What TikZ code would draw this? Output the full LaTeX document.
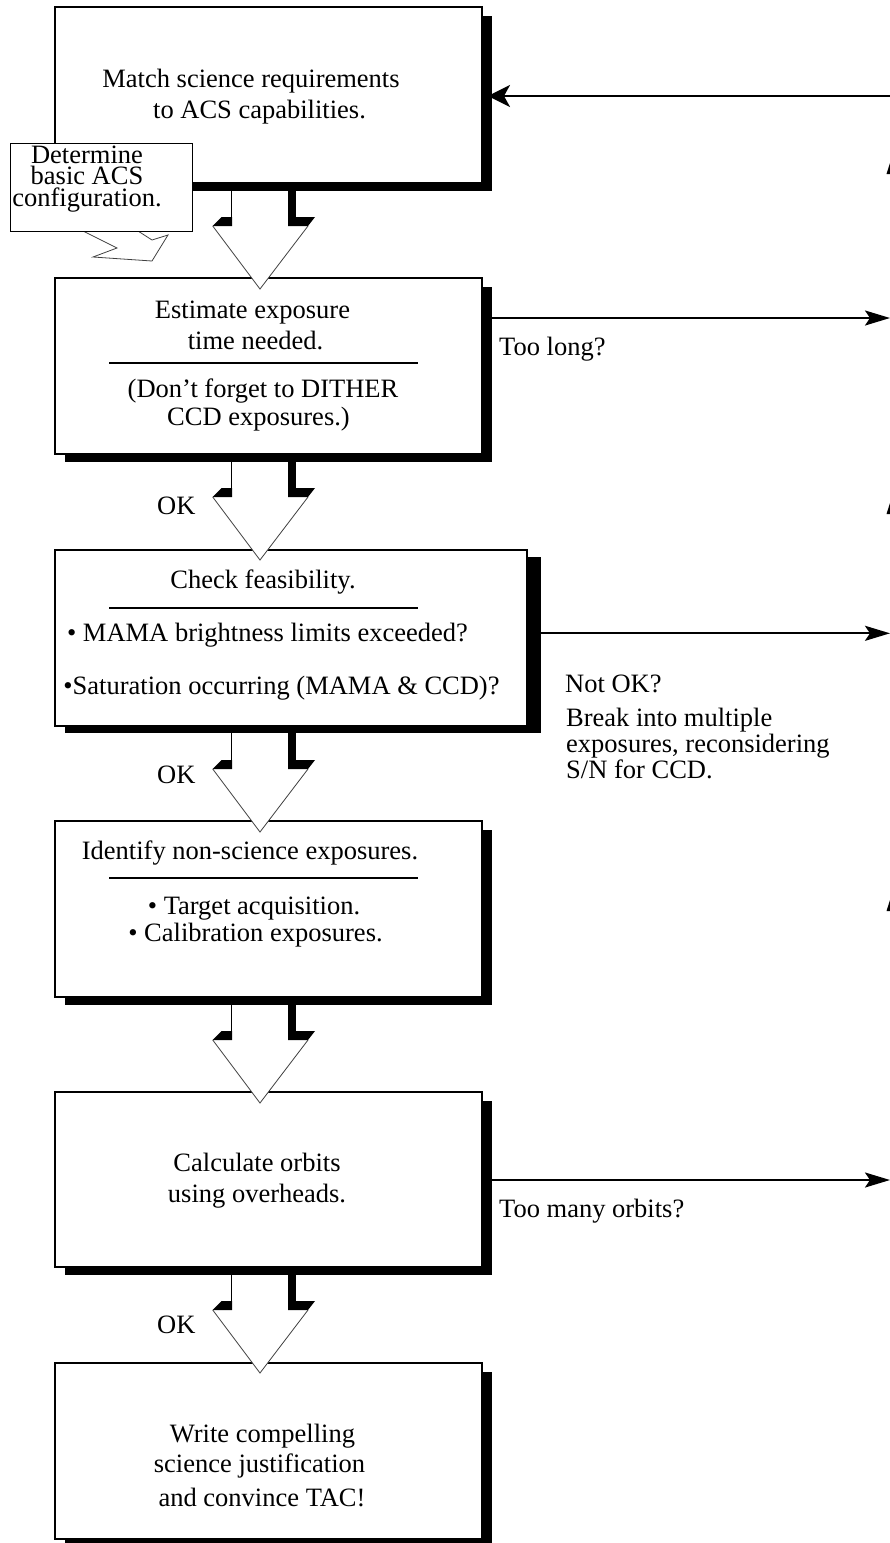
\documentclass[tikz,border=0pt]{standalone}
\usepackage{fontspec}
\setmainfont{Liberation Serif}
\usetikzlibrary{arrows.meta,calc}
\begin{document}
\begin{tikzpicture}[x=1pt,y=-1pt,
  box/.style={draw=black, line width=2pt, fill=white, minimum width=427pt, minimum height=176pt, inner sep=0pt, outer sep=0pt},
  txt/.style={font=\fontsize{26.5}{31}\selectfont, inner sep=0pt, anchor=base},
  ltxt/.style={font=\fontsize{26.5}{31}\selectfont, inner sep=0pt, anchor=base west},
  sep/.style={line width=2pt},
  thinedge/.style={draw=black!75, line width=0.8pt},
  sidearrow/.style={line width=2.2pt, -{Stealth[length=25pt,width=15pt,inset=5pt]}},
  backarrow/.style={line width=2.2pt, -{Stealth[length=22pt,width=22pt,inset=6pt]}}
]
\useasboundingbox (0,0) rectangle (890,1543);

% ---- boxes
\node[box] (b1) at (268.5,95) {};
\node[box] (b2) at (268.5,366) {};
\node[box, minimum width=472pt] (b3) at (291,638) {};
\node[box] (b4) at (268.5,909) {};
\node[box, minimum height=175pt] (b5) at (268.5,1179.5) {};
\node[box] (b6) at (268.5,1451) {};
% ---- shadows
\foreach \b in {b1,b2,b4,b5,b6}{
  \fill ($(\b.north east)+(0,9)$) rectangle ($(\b.south east)+(10,8)$);
  \fill ($(\b.south west)+(10,0)$) rectangle ($(\b.south east)+(10,8)$);
}
\fill ($(b3.north east)+(0,7)$) rectangle ($(b3.south east)+(14,7)$);
\fill ($(b3.south west)+(10,0)$) rectangle ($(b3.south east)+(14,7)$);
\foreach \b in {b1,b2,b3,b4,b5,b6}{
  \draw[line width=2pt] (\b.south west) rectangle (\b.north east);
}

% ---- block arrows between boxes
\newcommand\flowarr[1]{%
\begin{scope}[shift={(#1.south west)}]
  \fill[white] (157.7,43) -- (176.7,43) -- (176.7,8) -- (233,8) -- (233,43) -- (253,43) -- (205,106) -- cycle;
  \draw[thinedge] (157.7,43) -- (205,106) -- (253,43);
  \draw[line width=1pt] (176.7,0) -- (176.7,34.5);
  \fill (157.7,43) -- (166.7,34) -- (177.2,34) -- (177.2,43) -- cycle;
  \fill (233,0) rectangle (241,34);
  \fill (233,34) -- (260,34) -- (253,43) -- (233,43) -- cycle;
\end{scope}}
\flowarr{b1}
\flowarr{b2}
\flowarr{b3}
\flowarr{b4}
\flowarr{b5}

% ---- box texts
\node[txt] (t1a) at (251,87.3) {Match science requirements};
\node[txt] (t1b) at (259.5,118.3) {to ACS capabilities.};

\node[txt] (t2a) at (252.5,318.3) {Estimate exposure};
\node[txt] (t2b) at (255.5,349.3) {time needed.};
\draw[sep] (109,363) -- (418,363);
\node[txt] (t2c) at (263,397.7) {(Don’t forget to DITHER};
\node[txt] (t2d) at (258.5,425.7) {CCD exposures.)};

\node[txt] (t3a) at (263,588.3) {Check feasibility.};
\draw[sep] (109,608) -- (418,608);
\node[txt] (t3b) at (267.5,641.7) {• MAMA brightness limits exceeded?};
\node[txt] (t3c) at (281.5,694) {•Saturation occurring (MAMA \& CCD)?};

\node[txt] (t4a) at (250,859.3) {Identify non-science exposures.};
\draw[sep] (109,878.3) -- (418,878.3);
\node[txt] (t4b) at (254,914) {• Target acquisition.};
\node[txt] (t4c) at (255.5,941) {• Calibration exposures.};

\node[txt] (t5a) at (257,1171.7) {Calculate orbits};
\node[txt] (t5b) at (257,1202.3) {using overheads.};

\node[txt] (t6a) at (262.5,1442.3) {Write compelling};
\node[txt] (t6b) at (259.5,1472.7) {science justification};
\node[txt] (t6c) at (262,1506) {and convince TAC!};

% ---- OK labels
\node[ltxt] (ok2) at (157,514) {OK};
\node[ltxt] (ok3) at (157,783.3) {OK};
\node[ltxt] (ok5) at (157,1333.3) {OK};

% ---- callout
\draw[thinedge] (83,231) -- (117,248) -- (93,257) -- (152,261) -- (168,235) -- (152,240) -- (138,231);
\draw[line width=1pt, fill=white] (10.7,143) rectangle (192.7,231);
\node[font=\fontsize{26.5}{21.5}\selectfont, inner sep=0pt, align=center, anchor=north] (call) at (87,145.5) {Determine\\basic ACS\\configuration.};

% ---- side arrows
\coordinate (r1) at (892,96);
\coordinate (e1) at ($(b1.east)+(6,1)$);
\draw[backarrow] (r1) -- (e1);

\coordinate (s2) at ($(b2.east)+(10,-48)$);
\coordinate (r2) at (890,318);
\draw[sidearrow] (s2) -- (r2);
\node[ltxt] (l2) at (499,355) {Too long?};

\coordinate (s3) at ($(b3.east)+(14,-4.7)$);
\coordinate (r3) at (890,633.3);
\draw[sidearrow] (s3) -- (r3);
\node[ltxt] (l3a) at (565,692.3) {Not OK?};
\node[font=\fontsize{26.5}{26.3}\selectfont, inner sep=0pt, align=left, anchor=north west] (l3b) at (566,707.5) {Break into multiple\\exposures, reconsidering\\S/N for CCD.};

\coordinate (s5) at ($(b5.east)+(10,0.5)$);
\coordinate (r5) at (890,1180);
\draw[sidearrow] (s5) -- (r5);
\node[ltxt] (l5) at (499,1217.3) {Too many orbits?};

% ---- partial arrowheads at right edge
\fill (886.5,174) -- (890,163) -- (890,174) -- cycle;
\fill (886.5,514) -- (890,503) -- (890,514) -- cycle;
\fill (886.5,911) -- (890,900) -- (890,911) -- cycle;
\end{tikzpicture}
\end{document}
